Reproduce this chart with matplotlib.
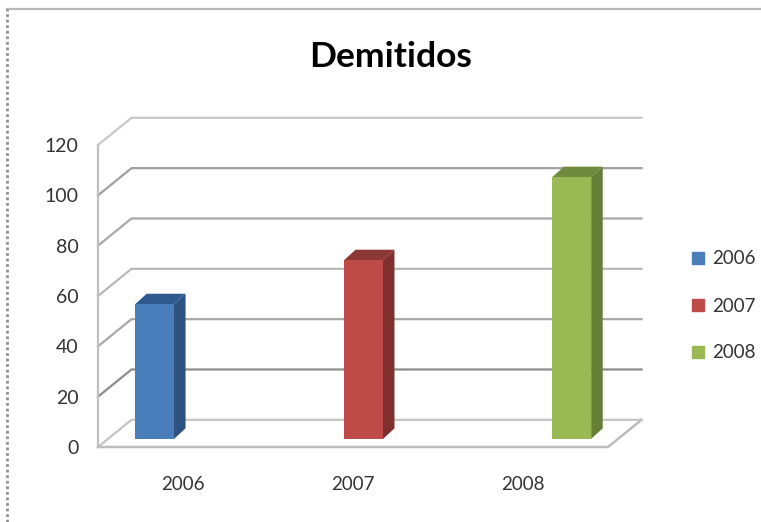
import matplotlib.pyplot as plt
from matplotlib.patches import Patch
from matplotlib.lines import Line2D

plt.rcParams['font.family'] = ['Lato', 'DejaVu Sans']

years = ['2006', '2007', '2008']
values = [53.5, 71, 104]
y_ticks = [0, 20, 40, 60, 80, 100, 120]

front_colors = ['#4a7ebb', '#be4b48', '#98b954']
side_colors = ['#2c5282', '#7f2f2d', '#667f37']
top_colors = ['#2f5a8f', '#8c3836', '#6f8a3c']
grid_colors = ['#c4c4c4', '#8c8c8c', '#a8a8a8', '#b8b8b8', '#a8a8a8', '#a0a0a0', '#c8c8c8']

W, H = 761, 522
fig = plt.figure(figsize=(W / 100, H / 100), dpi=100)

# front plane of the fake 3D box: 98..608 px wide, 145..447 px high
ax = fig.add_axes([98 / W, 1 - 447 / H, 510 / W, 302 / H])
ax.set_xlim(0, 3)
ax.set_ylim(0, 120)

# depth of the box and of the bars, in data units
box_dx, box_dy = 0.197, 10.8
bar_dx, bar_dy = 0.068, 4.2
bar_lift = 3.2
bar_left = [0.218, 1.447, 2.672]
bar_width = 0.229

# walls and floor
for v, c in zip(y_ticks, grid_colors):
    ax.plot([0, box_dx, 3 + box_dx], [v, v + box_dy, v + box_dy], color=c, lw=1.6,
            clip_on=False, zorder=1, solid_joinstyle='miter')
ax.plot([0, 0], [0, 120], color='#c0c0c0', lw=1.6, clip_on=False, zorder=1)
ax.plot([0, 3, 3 + box_dx], [0, 0, box_dy], color='#bdbdbd', lw=1.8, clip_on=False, zorder=1)

# bars
for i in range(len(values)):
    x0 = bar_left[i]
    x1 = x0 + bar_width
    y0 = bar_lift
    y1 = values[i] + bar_lift
    ax.fill([x1, x1 + bar_dx, x1 + bar_dx, x1], [y0, y0 + bar_dy, y1 + bar_dy, y1],
            color=side_colors[i], lw=0, clip_on=False, zorder=3)
    ax.fill([x0, x0 + bar_dx, x1 + bar_dx, x1], [y1, y1 + bar_dy, y1 + bar_dy, y1],
            color=top_colors[i], lw=0, clip_on=False, zorder=3)
    ax.fill([x0, x1, x1, x0], [y0, y0, y1, y1], color=front_colors[i], lw=0,
            clip_on=False, zorder=4)

for s in ax.spines.values():
    s.set_visible(False)
ax.patch.set_visible(False)
ax.set_xticks([0.5, 1.5, 2.5])
ax.set_xticklabels(years)
ax.set_yticks(y_ticks)
ax.tick_params(axis='x', length=0, pad=21, labelsize=13.5, labelcolor='#333333')
ax.tick_params(axis='y', length=0, pad=14, labelsize=14, labelcolor='#333333')

handles = [Patch(color=c, label=y) for c, y in zip(front_colors, years)]
ax.legend(handles=handles, loc='center left', bbox_to_anchor=(692 / W, 1 - 306 / H),
          bbox_transform=fig.transFigure, frameon=False, fontsize=13.5, labelcolor='#333333',
          handlelength=0.65, handleheight=0.65, handletextpad=0.4, labelspacing=1.6,
          borderpad=0, borderaxespad=0)

fig.text(391 / W, 1 - 57 / H, 'Demitidos', ha='center', va='center', fontsize=25.5,
         color='black', fontweight='bold')

# screenshot edges
fig.add_artist(Line2D([7 / W, 1], [1 - 9 / H, 1 - 9 / H], color='#b8b8b8', lw=1.6))
fig.add_artist(Line2D([6.5 / W, 6.5 / W], [0, 1 - 9 / H], color='#909090', lw=2,
                      linestyle=(0, (1, 1))))

plt.savefig('out.png', dpi=100)
